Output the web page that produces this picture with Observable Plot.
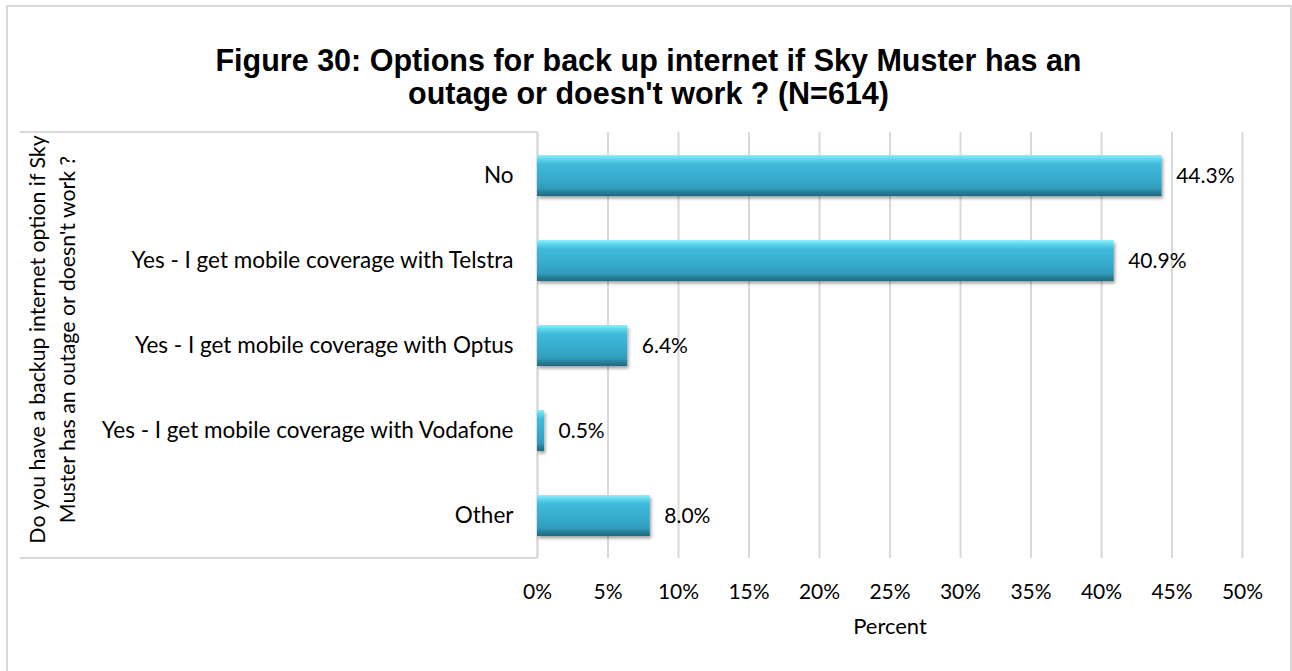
<!DOCTYPE html>
<html><head><meta charset="utf-8">
<script src="https://cdn.jsdelivr.net/npm/d3@7"></script>
<script src="https://cdn.jsdelivr.net/npm/@observablehq/plot@0.6"></script>
<style>
body{margin:0;background:#fff;}
#wrap{position:relative;width:1292px;height:671px;overflow:hidden;background:#fff;}
#border{position:absolute;left:6px;top:5px;width:1286px;height:720px;border:2px solid #d9d9d9;box-sizing:border-box;}
#title{position:absolute;left:6px;width:1285px;top:44px;text-align:center;font:bold 30.5px "Liberation Sans", Arial, sans-serif;line-height:33px;color:#000;}
#chart{position:absolute;left:0;top:100px;}
</style></head><body>
<div id="wrap"><div id="border"></div>
<div id="title">Figure 30: Options for back up internet if Sky Muster has an<br>outage or doesn't work ? (N=614)</div>
<div id="chart"></div></div>
<script>
const categories = [
  "No",
  "Yes - I get mobile coverage with Telstra",
  "Yes - I get mobile coverage with Optus",
  "Yes - I get mobile coverage with Vodafone",
  "Other"
];
const values = [44.3, 40.9, 6.4, 0.5, 8.0];
const xTicks = [0, 5, 10, 15, 20, 25, 30, 35, 40, 45, 50];
const yTitle = "Do you have a backup internet option if Sky\nMuster has an outage or doesn't work ?";
const xTitle = "Percent";

const data = categories.map((c, i) => ({category: c, value: values[i]}));

const defsMark = () => {
  const defs = d3.create("svg:defs");
  const g = defs.append("linearGradient").attr("id", "barGrad")
    .attr("x1", 0).attr("y1", 0).attr("x2", 0).attr("y2", 1);
  [[0, "#8ff0fb"], [0.1, "#5fd6ee"], [0.22, "#3fbadb"], [0.6, "#36aacb"], [0.82, "#2f9bbb"], [0.9, "#2a7f99"], [1, "#216a80"]]
    .forEach(([o, c]) => g.append("stop").attr("offset", o).attr("stop-color", c));
  const f = defs.append("filter").attr("id", "barShadow").attr("x", "-5%").attr("y", "-20%").attr("width", "120%").attr("height", "160%");
  f.append("feDropShadow").attr("dx", 1.5).attr("dy", 2.5).attr("stdDeviation", 1.8)
    .attr("flood-color", "#000").attr("flood-opacity", 0.35);
  return defs.node();
};

const tableLines = (index, scales, values, dims) => {
  const g = d3.create("svg:g").attr("stroke", "#d9d9d9").attr("stroke-width", 2);
  const yTop = dims.marginTop, yBot = dims.height - dims.marginBottom;
  [yTop, yBot].forEach(y => g.append("line").attr("x1", 20).attr("x2", dims.marginLeft).attr("y1", y).attr("y2", y));
  return g.node();
};

const chart = Plot.plot({
  width: 1292,
  height: 571,
  marginTop: 32,
  marginBottom: 113,
  marginLeft: 537,
  marginRight: 50,
  style: {fontFamily: "Lato, sans-serif", fontSize: "21px", color: "#000", background: "transparent"},
  x: {domain: [0, 50]},
  y: {domain: categories, paddingInner: 0.52, paddingOuter: 0.26},
  marks: [
    defsMark,
    tableLines,
    Plot.gridX(xTicks.slice(1), {stroke: "#d9d9d9", strokeOpacity: 1, strokeWidth: 2}),
    Plot.ruleX([0], {stroke: "#d0d0d0", strokeWidth: 2}),
    Plot.axisX({ticks: xTicks, tickFormat: d => d + "%", tickSize: 0, tickPadding: 26, label: null, fontSize: 21}),
    Plot.axisY({tickSize: 0, tickPadding: 24, label: null, fontSize: 22.5}),
    Plot.barX(data, {x: "value", y: "category", fill: "url(#barGrad)"}),
    Plot.text(data, {x: "value", y: "category", text: d => d.value.toFixed(1) + "%", textAnchor: "start", dx: 14, fontSize: 21, fill: "#000"}),
    Plot.text([xTitle], {frameAnchor: "bottom", dy: 75, text: d => d, fontSize: 22, fill: "#000"}),
    Plot.text([yTitle], {frameAnchor: "left", dx: -487, dy: -6, rotate: -90, textAnchor: "middle", lineHeight: 1.38, text: d => d, fontSize: 21.3, fill: "#000"})
  ]
});
d3.select(chart).selectAll("g[aria-label=bar]").attr("filter", "url(#barShadow)");
document.getElementById("chart").appendChild(chart);
</script>
</body></html>
